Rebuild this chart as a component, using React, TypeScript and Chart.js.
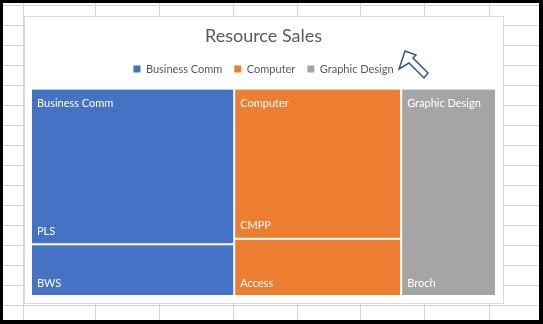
import React, { useEffect, useRef } from "react";
import { Chart, registerables } from "chart.js";

Chart.register(...registerables);

const chartTitle = "Resource Sales";
const groupNames = ["Business Comm", "Computer", "Graphic Design"];
const groupColors = ["#4472C4", "#ED7D31", "#A5A5A5"];

const businessCommItems = ["PLS", "BWS"];
const businessCommValues = [328, 109];
const computerItems = ["CMPP", "Access"];
const computerValues = [260, 99];
const graphicDesignItems = ["Broch"];
const graphicDesignValues = [204];

const groupItems = [businessCommItems, computerItems, graphicDesignItems];
const groupValues = [businessCommValues, computerValues, graphicDesignValues];

const FONT = "Lato, 'Open Sans', sans-serif";

function sum(a: number[]) {
  return a.reduce((s, v) => s + v, 0);
}

const treemapPlugin = {
  id: "treemapPlugin",
  beforeDraw(chart: any) {
    const ctx = chart.ctx;
    const W = chart.width;
    const H = chart.height;
    ctx.save();
    ctx.fillStyle = "#ffffff";
    ctx.fillRect(0, 0, W, H);
    // spreadsheet grid
    ctx.strokeStyle = "#d4d4d4";
    ctx.lineWidth = 1;
    const vx = [23, 95, 159, 233, 297, 360, 424, 489];
    for (const x of vx) {
      ctx.beginPath();
      ctx.moveTo(x + 0.5, 0);
      ctx.lineTo(x + 0.5, H);
      ctx.stroke();
    }
    for (let y = 5; y < H; y += 20) {
      ctx.beginPath();
      ctx.moveTo(0, y + 0.5);
      ctx.lineTo(W, y + 0.5);
      ctx.stroke();
    }
    // chart box
    ctx.fillStyle = "#ffffff";
    ctx.fillRect(24, 16, 480, 288);
    ctx.strokeStyle = "#d9d9d9";
    ctx.strokeRect(24.5, 16.5, 479, 287);
    // black frame
    ctx.fillStyle = "#000000";
    ctx.fillRect(0, 0, W, 3);
    ctx.fillRect(0, 0, 3, H);
    ctx.fillRect(539, 0, W - 539, H);
    ctx.fillRect(0, 320, W, H - 320);
    ctx.restore();
  },
  afterDatasetsDraw(chart: any) {
    const ctx = chart.ctx;
    const xs = chart.scales.x;
    const ys = chart.scales.y;
    ctx.save();
    ctx.font = "11px " + FONT;
    ctx.textBaseline = "middle";
    ctx.textAlign = "left";
    let cum = 0;
    groupNames.forEach((g, gi) => {
      const vals = groupValues[gi];
      const items = groupItems[gi];
      const gTotal = sum(vals);
      const x0 = xs.getPixelForValue(cum) + 1;
      const x1 = xs.getPixelForValue(cum + gTotal) - 1;
      let inner = 0;
      vals.forEach((v, li) => {
        const y0 = ys.getPixelForValue(inner / gTotal) + 1;
        const y1 = ys.getPixelForValue((inner + v) / gTotal) - 1;
        ctx.fillStyle = groupColors[gi];
        ctx.fillRect(x0, y0, x1 - x0, y1 - y0);
        ctx.fillStyle = "#ffffff";
        if (li === 0) ctx.fillText(g, x0 + 5, y0 + 14);
        ctx.fillText(items[li], x0 + 5, y1 - 12);
        inner += v;
      });
      cum += gTotal;
    });
    ctx.restore();
  },
  afterDraw(chart: any) {
    const ctx = chart.ctx;
    ctx.save();
    const pts = [
      [405, 51],
      [416, 55],
      [413, 58],
      [428, 73],
      [424, 78],
      [409, 63],
      [399, 69],
    ];
    ctx.beginPath();
    pts.forEach((p, i) => (i === 0 ? ctx.moveTo(p[0], p[1]) : ctx.lineTo(p[0], p[1])));
    ctx.closePath();
    ctx.fillStyle = "#ffffff";
    ctx.fill();
    ctx.strokeStyle = "#2F5597";
    ctx.lineWidth = 1.5;
    ctx.lineJoin = "miter";
    ctx.stroke();
    ctx.restore();
  },
};

export default function App() {
  const ref = useRef<HTMLCanvasElement | null>(null);
  useEffect(() => {
    if (!ref.current) return;
    const total = sum(groupValues.map((v) => sum(v)));
    const chart = new Chart(ref.current, {
      type: "bar",
      data: {
        labels: [],
        datasets: groupNames.map((g, i) => ({
          label: g,
          data: [],
          backgroundColor: groupColors[i],
          borderColor: groupColors[i],
          borderWidth: 0,
        })),
      },
      options: {
        responsive: false,
        animation: false,
        devicePixelRatio: 1,
        layout: { padding: { top: 14, left: 31, right: 47, bottom: 28 } },
        scales: {
          x: {
            type: "linear",
            position: "top",
            min: 0,
            max: total,
            offset: false,
            display: true,
            ticks: { display: false },
            grid: { display: false, drawTicks: false },
            border: { display: false },
            afterFit: (scale: any) => {
              scale.height = 4;
            },
          },
          y: { type: "linear", min: 0, max: 1, reverse: true, offset: false, display: false },
        },
        plugins: {
          title: {
            display: true,
            text: chartTitle,
            color: "#595959",
            font: { family: FONT, size: 18, weight: "normal" },
            padding: { top: 11, bottom: 5 },
          },
          legend: {
            display: true,
            position: "top",
            labels: {
              boxWidth: 7,
              boxHeight: 7,
              padding: 12,
              color: "#595959",
              font: { family: FONT, size: 11 },
            },
          },
          tooltip: { enabled: false },
        },
      },
      plugins: [treemapPlugin],
    });
    return () => chart.destroy();
  }, []);
  return (
    <div style={{ position: "absolute", left: 0, top: 0 }}>
      <canvas ref={ref} width={543} height={324} style={{ display: "block" }} />
    </div>
  );
}
